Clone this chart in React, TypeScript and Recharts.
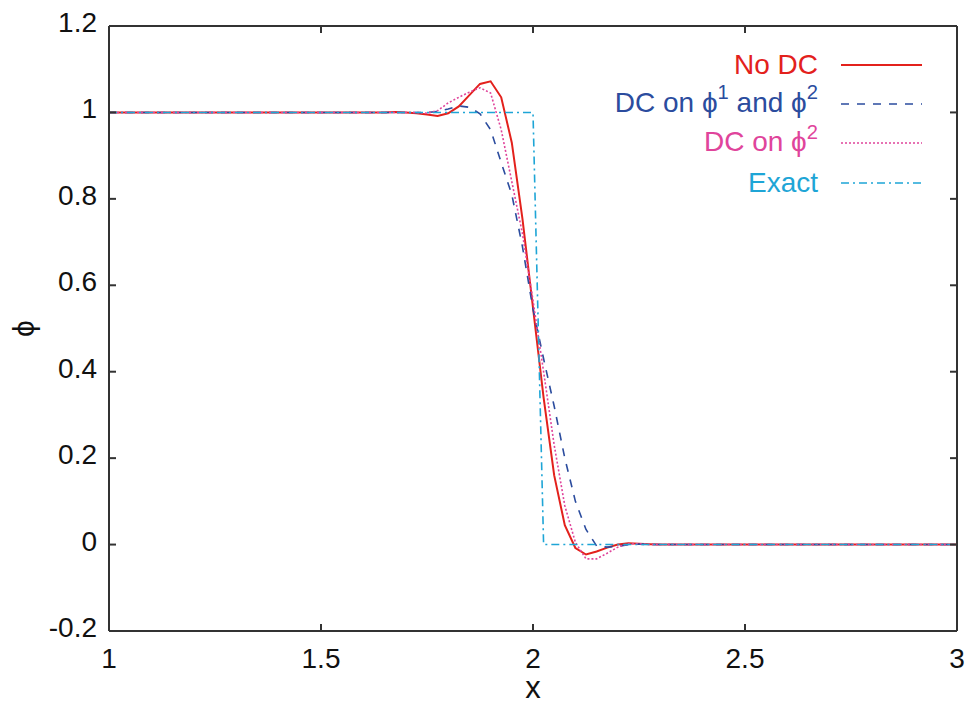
import React from 'react';
import { LineChart, Line, XAxis, YAxis, Legend } from 'recharts';

const xValues = [1, 1.65, 1.675, 1.7, 1.725, 1.75, 1.775, 1.8, 1.825, 1.85, 1.875, 1.9, 1.925, 1.95, 1.975, 2.0, 2.025, 2.05, 2.075, 2.1, 2.125, 2.15, 2.175, 2.2, 2.225, 2.25, 2.275, 2.3, 3];
const noDC = [1, 1, 1.001, 1.0, 0.998, 0.995, 0.992, 0.998, 1.014, 1.04, 1.066, 1.072, 1.035, 0.93, 0.755, 0.548, 0.34, 0.16, 0.045, -0.008, -0.023, -0.016, -0.007, 0.0, 0.003, 0.002, 0.001, 0, 0];
const dcBoth = [1, 1, 1, 1, 1, 1.0, 1.002, 1.008, 1.015, 1.012, 0.997, 0.96, 0.884, 0.81, 0.69, 0.545, 0.43, 0.32, 0.2, 0.1, 0.035, -0.003, -0.006, -0.004, 0, 0.001, 0, 0, 0];
const dcPhi2 = [1, 1, 1, 1, 1.0, 0.998, 1.004, 1.022, 1.035, 1.047, 1.057, 1.045, 0.96, 0.84, 0.72, 0.565, 0.4, 0.23, 0.09, 0.005, -0.033, -0.033, -0.02, -0.006, 0.002, 0.002, 0, 0, 0];
const exact = [1, 1, 1, 1, 1, 1, 1, 1, 1, 1, 1, 1, 1, 1, 1, 1, 0, 0, 0, 0, 0, 0, 0, 0, 0, 0, 0, 0, 0];

const xTicks = [1, 1.5, 2, 2.5, 3];
const yTicks = [-0.2, 0, 0.2, 0.4, 0.6, 0.8, 1, 1.2];

const rows = xValues.map((x, i) => ({ x, noDC: noDC[i], dcBoth: dcBoth[i], dcPhi2: dcPhi2[i], exact: exact[i] }));

const FONT = '"Liberation Sans", Arial, Helvetica, sans-serif';
const FRAME = '#333';
const TICK_LEN = 7;

const fmt = (v: number) => String(Math.round(v * 10) / 10);

const LeftTick = (p: any) => {
  const { x, y, payload } = p;
  return (
    <g>
      <text x={x} y={y + 6} textAnchor="end" fontSize={28} fontFamily={FONT} fill="#111">{fmt(payload.value)}</text>
      <line x1={x + 12} x2={x + 12 + TICK_LEN} y1={y} y2={y} stroke={FRAME} strokeWidth={2} />
    </g>
  );
};

const BottomTick = (p: any) => {
  const { x, y, payload } = p;
  return (
    <g>
      <text x={x} y={y} textAnchor="middle" fontSize={28} fontFamily={FONT} fill="#111">{fmt(payload.value)}</text>
      <line x1={x} x2={x} y1={y - 37} y2={y - 37 - TICK_LEN} stroke={FRAME} strokeWidth={2} />
    </g>
  );
};

const TopTick = (p: any) => {
  const { x, y } = p;
  return <line x1={x} x2={x} y1={y} y2={y + TICK_LEN} stroke={FRAME} strokeWidth={2} />;
};

const RightTick = (p: any) => {
  const { x, y } = p;
  return <line x1={x} x2={x - TICK_LEN} y1={y} y2={y} stroke={FRAME} strokeWidth={2} />;
};

const series = [
  { key: 'noDC', name: 'No DC', color: '#e3211c', dash: undefined as string | undefined, width: 2 },
  { key: 'dcBoth', name: 'DC on ϕ^1 and ϕ^2', color: '#2b4c9e', dash: '8 8', width: 1.6 },
  { key: 'dcPhi2', name: 'DC on ϕ^2', color: '#e0449b', dash: '2 2', width: 1.6 },
  { key: 'exact', name: 'Exact', color: '#1ea5d6', dash: '8 4 2 4', width: 1.6 },
];

const renderName = (name: string) => {
  const parts = name.split(/\^(\d)/);
  return parts.map((s, i) =>
    i % 2 === 1 ? (
      <span key={i} style={{ fontSize: '0.72em', position: 'relative', top: '-0.62em' }}>{s}</span>
    ) : (
      <span key={i}>{s}</span>
    )
  );
};

const LegendContent = () => (
  <div style={{ fontFamily: FONT, fontSize: 28 }}>
    {series.map((s) => (
      <div key={s.key} style={{ display: 'flex', alignItems: 'center', height: 39.3 }}>
        <div style={{ width: 300, textAlign: 'right', color: s.color, whiteSpace: 'nowrap', lineHeight: '28px' }}>
          {renderName(s.name)}
        </div>
        <svg width={81} height={10} style={{ marginLeft: 23, display: 'block' }}>
          <line x1={0} x2={81} y1={5} y2={5} stroke={s.color} strokeWidth={s.width} strokeDasharray={s.dash} />
        </svg>
      </div>
    ))}
  </div>
);

export default function App() {
  return (
    <div style={{ position: 'absolute', left: 0, top: 0, background: '#fff' }}>
      <LineChart width={970} height={705} data={rows} margin={{ top: 25, right: 12, bottom: 0, left: 0 }}>
        <XAxis
          xAxisId="b"
          dataKey="x"
          type="number"
          domain={[1, 3]}
          ticks={xTicks}
          allowDataOverflow
          orientation="bottom"
          height={74}
          tickSize={0}
          tickMargin={37}
          tickLine={false}
          tick={<BottomTick />}
          axisLine={{ stroke: FRAME, strokeWidth: 2 }}
          interval={0}
          label={(props: any) => {
            const vb = props.viewBox;
            return (
              <text x={vb.x + vb.width / 2} y={698} textAnchor="middle" fontSize={31} fontFamily={FONT} fill="#111">x</text>
            );
          }}
        />
        <XAxis
          xAxisId="t"
          dataKey="x"
          type="number"
          domain={[1, 3]}
          ticks={xTicks}
          allowDataOverflow
          orientation="top"
          height={1}
          tickSize={0}
          tickMargin={0}
          tickLine={false}
          tick={<TopTick />}
          axisLine={{ stroke: FRAME, strokeWidth: 2 }}
          interval={0}
        />
        <YAxis
          yAxisId="l"
          type="number"
          domain={[-0.2, 1.2]}
          ticks={yTicks}
          allowDataOverflow
          orientation="left"
          width={109}
          tickSize={0}
          tickMargin={12}
          tickLine={false}
          tick={<LeftTick />}
          axisLine={{ stroke: FRAME, strokeWidth: 2 }}
          interval={0}
          label={(props: any) => {
            const vb = props.viewBox;
            const cy = vb.y + vb.height / 2;
            return (
              <text x={23} y={cy} transform={`rotate(-90 23 ${cy})`} textAnchor="middle" dominantBaseline="central" fontSize={30} fontFamily={FONT} fill="#111">ϕ</text>
            );
          }}
        />
        <YAxis
          yAxisId="r"
          type="number"
          domain={[-0.2, 1.2]}
          ticks={yTicks}
          allowDataOverflow
          orientation="right"
          width={1}
          tickSize={0}
          tickMargin={0}
          tickLine={false}
          tick={<RightTick />}
          axisLine={{ stroke: FRAME, strokeWidth: 2 }}
          interval={0}
        />
        <Legend
          layout="vertical"
          align="center"
          verticalAlign="middle"
          content={<LegendContent />}
          wrapperStyle={{ position: 'absolute', left: 518, top: 45, width: 420, height: 160 }}
        />
        {series.map((s, i) => (
          <Line
            key={s.key}
            xAxisId={i === 3 ? 't' : 'b'}
            yAxisId={i === 3 ? 'r' : 'l'}
            dataKey={s.key}
            name={s.name}
            type="linear"
            stroke={s.color}
            strokeWidth={s.width}
            strokeDasharray={s.dash}
            dot={false}
            activeDot={false}
            isAnimationActive={false}
          />
        ))}
      </LineChart>
    </div>
  );
}
